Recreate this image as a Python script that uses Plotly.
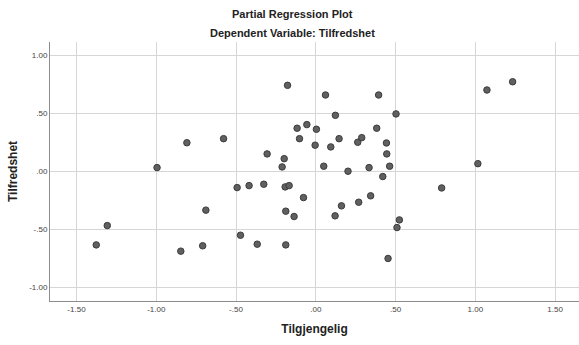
import plotly.graph_objects as go

tilgjengelig = [-1.376, -1.307, -0.995, -0.808, -0.846, -0.709, -0.689, -0.578, -0.493, -0.472,
                -0.418, -0.367, -0.326, -0.305, -0.211, -0.198, -0.192, -0.188, -0.188, -0.177,
                -0.167, -0.136, -0.117, -0.102, -0.077, -0.056, 0.004, -0.004, 0.050, 0.061,
                0.094, 0.121, 0.123, 0.146, 0.161, 0.202, 0.263, 0.269, 0.288, 0.334,
                0.344, 0.382, 0.394, 0.420, 0.443, 0.445, 0.453, 0.463, 0.503, 0.509,
                0.524, 0.789, 1.016, 1.073, 1.234]
tilfredshet = [-0.634, -0.468, 0.031, 0.245, -0.688, -0.642, -0.335, 0.280, -0.141, -0.551,
               -0.124, -0.628, -0.112, 0.149, 0.037, 0.108, -0.135, -0.344, -0.634, 0.739,
               -0.124, -0.390, 0.370, 0.280, -0.227, 0.401, 0.361, 0.224, 0.043, 0.656,
               0.209, -0.384, 0.481, 0.280, -0.298, 0.000, 0.249, -0.267, 0.289, 0.031,
               -0.212, 0.370, 0.656, -0.046, 0.243, 0.149, -0.751, 0.043, 0.493, -0.485,
               -0.419, -0.144, 0.065, 0.699, 0.770]

x_ticks = [-1.5, -1.0, -0.5, 0.0, 0.5, 1.0, 1.5]
x_ticklabels = ["-1.50", "-1.00", "-.50", ".00", ".50", "1.00", "1.50"]
y_ticks = [-1.0, -0.5, 0.0, 0.5, 1.0]
y_ticklabels = ["-1.00", "-.50", ".00", ".50", "1.00"]

font = "Liberation Sans, Arial, sans-serif"
W, H = 579, 345
ML, MR, MT, MB = 50, 0, 42, 44

fig = go.Figure(go.Scatter(
    x=tilgjengelig, y=tilfredshet, mode="markers",
    marker=dict(size=6.5, color="#606060", line=dict(color="#3c3c3c", width=1)),
    hoverinfo="x+y",
))

plot_w = W - ML - MR
plot_h = H - MT - MB

def px_x(pix):
    return (pix - ML) / plot_w

def px_y(pix):
    return (H - MB - pix) / plot_h

fig.update_layout(
    width=W, height=H,
    margin=dict(l=ML, r=MR, t=MT, b=MB),
    paper_bgcolor="white", plot_bgcolor="white",
    showlegend=False,
    font=dict(family=font, color="#222"),
)
fig.add_annotation(text="<b>Partial Regression Plot</b>", x=px_x(292), xref="paper", y=px_y(14), yref="paper",
                   showarrow=False, font=dict(size=11, color="#222"), xanchor="center", yanchor="middle")
fig.add_annotation(text="<b>Dependent Variable: Tilfredshet</b>", x=px_x(292), xref="paper", y=px_y(33), yref="paper",
                   showarrow=False, font=dict(size=11, color="#222"), xanchor="center", yanchor="middle")

fig.update_xaxes(
    range=[-1.666, 1.65], tickvals=x_ticks, ticktext=x_ticklabels,
    showgrid=True, gridcolor="#d6d6d6", gridwidth=1, zeroline=False,
    showline=True, linecolor="#8c8c8c", linewidth=1, ticks="",
    tickfont=dict(size=8, color="#444"),
    title=dict(text="<b>Tilgjengelig</b>", font=dict(size=12, color="#222"), standoff=12),
)
fig.update_yaxes(
    range=[-1.117, 1.112], tickvals=y_ticks, ticktext=y_ticklabels,
    showgrid=True, gridcolor="#d6d6d6", gridwidth=1, zeroline=False,
    showline=True, linecolor="#8c8c8c", linewidth=1, ticks="",
    tickfont=dict(size=8, color="#444"),
    title=dict(text="<b>Tilfredshet</b>", font=dict(size=12, color="#222"), standoff=8),
)

fig.write_html("out.html")
